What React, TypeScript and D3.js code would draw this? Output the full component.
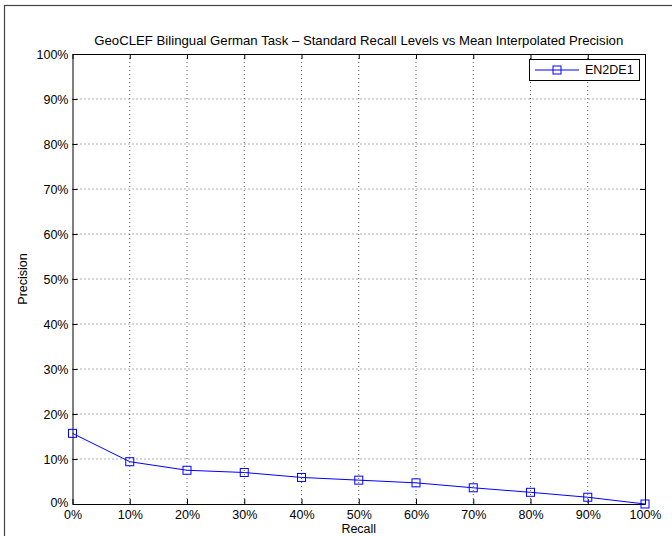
import React, { useEffect, useRef } from "react";
import * as d3 from "d3";

const recallLevels = [0, 10, 20, 30, 40, 50, 60, 70, 80, 90, 100];
const en2de1 = [15.7, 9.4, 7.5, 7.0, 5.9, 5.3, 4.7, 3.6, 2.6, 1.5, 0.0];
const yTicks = [0, 10, 20, 30, 40, 50, 60, 70, 80, 90, 100];
const seriesName = "EN2DE1";
const title = "GeoCLEF Bilingual German Task \u2013 Standard Recall Levels vs Mean Interpolated Precision";

const W = 672;
const H = 536;
const margin = { top: 54, right: 27, bottom: 32, left: 72.5 };
const FONT = "'Liberation Sans', Arial, Helvetica, sans-serif";
const FS = 12.5;

export default function App() {
  const ref = useRef<SVGSVGElement | null>(null);

  useEffect(() => {
    if (ref.current == null) return;
    const svg = d3.select(ref.current);
    svg.selectAll("*").remove();

    const iw = W - margin.left - margin.right;
    const ih = H - margin.top - margin.bottom;

    // figure frame
    svg.append("rect")
      .attr("x", 4.5).attr("y", 5.5)
      .attr("width", W + 20).attr("height", H + 20)
      .attr("fill", "white").attr("stroke", "#444").attr("stroke-width", 1.2);

    const g = svg.append("g").attr("transform", `translate(${margin.left},${margin.top})`);

    const x = d3.scaleLinear().domain([0, 100]).range([0, iw]);
    const y = d3.scaleLinear().domain([0, 100]).range([ih, 0]);

    // grid
    g.append("g").selectAll("line.gx")
      .data(recallLevels.slice(1, -1))
      .enter().append("line")
      .attr("x1", d => x(d)).attr("x2", d => x(d))
      .attr("y1", 0).attr("y2", ih)
      .attr("stroke", "#333").attr("stroke-width", 0.8)
      .attr("stroke-dasharray", "1,3");
    g.append("g").selectAll("line.gy")
      .data(yTicks.slice(1, -1))
      .enter().append("line")
      .attr("x1", 0).attr("x2", iw)
      .attr("y1", d => y(d)).attr("y2", d => y(d))
      .attr("stroke", "#333").attr("stroke-width", 0.8)
      .attr("stroke-dasharray", "1,3");

    // axes: inward ticks on every side
    const fmt = (d: d3.NumberValue) => `${d}%`;
    const bottom = g.append("g").attr("transform", `translate(0,${ih})`)
      .call(d3.axisBottom(x).tickValues(recallLevels).tickFormat(fmt).tickSizeInner(-5).tickSizeOuter(0).tickPadding(6));
    const left = g.append("g")
      .call(d3.axisLeft(y).tickValues(yTicks).tickFormat(fmt).tickSizeInner(-5).tickSizeOuter(0).tickPadding(4));
    const top = g.append("g")
      .call(d3.axisTop(x).tickValues(recallLevels).tickFormat(() => "").tickSizeInner(-5).tickSizeOuter(0));
    const right = g.append("g").attr("transform", `translate(${iw},0)`)
      .call(d3.axisRight(y).tickValues(yTicks).tickFormat(() => "").tickSizeInner(-5).tickSizeOuter(0));

    [bottom, left, top, right].forEach(a => {
      a.selectAll("path").attr("stroke", "#000").attr("stroke-width", 1);
      a.selectAll("line").attr("stroke", "#000");
      a.selectAll("text").attr("font-family", FONT).attr("font-size", FS).attr("fill", "#000");
    });
    // lift the 0% y label a touch so it clears the 0% recall label
    left.selectAll<SVGTextElement, number>("text").filter(d => d === 0).attr("dy", "0.2em");

    // series
    const line = d3.line<number>()
      .x((_, i) => x(recallLevels[i]))
      .y(d => y(d));
    g.append("path")
      .datum(en2de1)
      .attr("d", line)
      .attr("fill", "none")
      .attr("stroke", "#0000ff")
      .attr("stroke-width", 1);
    g.selectAll("rect.mk")
      .data(en2de1)
      .enter().append("rect")
      .attr("x", (_, i) => x(recallLevels[i]) - 4)
      .attr("y", d => y(d) - 4)
      .attr("width", 8).attr("height", 8)
      .attr("fill", "none")
      .attr("stroke", "#0000ff")
      .attr("stroke-width", 1);

    // legend
    const lg = g.append("g").attr("transform", `translate(${iw - 116},${5})`);
    lg.append("rect")
      .attr("x", 0.5).attr("y", 0.5)
      .attr("width", 110).attr("height", 21)
      .attr("fill", "white").attr("stroke", "#000");
    lg.append("line")
      .attr("x1", 6).attr("x2", 50).attr("y1", 11).attr("y2", 11)
      .attr("stroke", "#0000ff");
    lg.append("rect")
      .attr("x", 24).attr("y", 7).attr("width", 8).attr("height", 8)
      .attr("fill", "none").attr("stroke", "#0000ff");
    lg.append("text")
      .attr("x", 56).attr("y", 11).attr("dy", "0.35em")
      .attr("font-family", FONT).attr("font-size", FS)
      .text(seriesName);

    // labels
    svg.append("text")
      .attr("x", margin.left + iw / 2).attr("y", 40).attr("dy", "0.35em")
      .attr("text-anchor", "middle")
      .attr("font-family", FONT).attr("font-size", 13.2)
      .text(title);
    svg.append("text")
      .attr("x", margin.left + iw / 2).attr("y", 529).attr("dy", "0.35em")
      .attr("text-anchor", "middle")
      .attr("font-family", FONT).attr("font-size", FS)
      .text("Recall");
    svg.append("text")
      .attr("transform", `translate(23,${margin.top + ih / 2}) rotate(-90)`)
      .attr("dy", "0.35em")
      .attr("text-anchor", "middle")
      .attr("font-family", FONT).attr("font-size", FS)
      .text("Precision");
  }, []);

  return (
    <svg
      ref={ref}
      width={W}
      height={H}
      style={{ position: "absolute", left: 0, top: 0, background: "white" }}
    />
  );
}
